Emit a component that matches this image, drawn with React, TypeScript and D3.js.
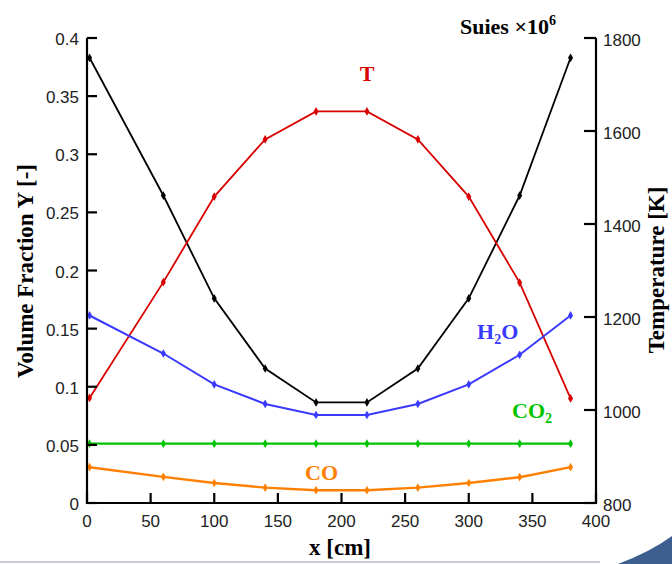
import React from "react";
import * as d3 from "d3";

const xPos = [2, 60, 100, 140, 180, 220, 260, 300, 340, 380];
const soot = [0.383, 0.2645, 0.176, 0.1157, 0.0865, 0.0865, 0.1157, 0.176, 0.2645, 0.383];
const temperature = [1026, 1275, 1459, 1582, 1642, 1642, 1582, 1459, 1274, 1025];
const h2o = [0.1613, 0.1286, 0.102, 0.0852, 0.0757, 0.0757, 0.0852, 0.102, 0.1275, 0.1613];
const co2 = [0.051, 0.051, 0.051, 0.051, 0.051, 0.051, 0.051, 0.051, 0.051, 0.051];
const co = [0.0308, 0.0225, 0.0172, 0.0132, 0.011, 0.011, 0.0132, 0.0172, 0.0222, 0.0308];

const xTicks = [0, 50, 100, 150, 200, 250, 300, 350, 400];
const yLeftTicks = [0, 0.05, 0.1, 0.15, 0.2, 0.25, 0.3, 0.35, 0.4];
const yRightTicks = [800, 1000, 1200, 1400, 1600, 1800];

const W = 672;
const H = 564;
const serif = "'Liberation Serif', 'Times New Roman', serif";
const sans = "'Liberation Sans', Arial, sans-serif";

export default function App() {
  const x = d3.scaleLinear().domain([0, 400]).range([87, 596]);
  const yL = d3.scaleLinear().domain([0, 0.4]).range([503, 38]);
  const yR = d3.scaleLinear().domain([800, 1800]).range([503, 38]);

  const lineL = (vals: number[]) =>
    d3.line<number>().x((_, i) => x(xPos[i])).y((v) => yL(v))(vals) || "";
  const lineR = (vals: number[]) =>
    d3.line<number>().x((_, i) => x(xPos[i])).y((v) => yR(v))(vals) || "";

  const diamond = d3.symbol().type(d3.symbolDiamond).size(22)() || "";

  const series = [
    { vals: soot, color: "#000000", scale: yL, path: lineL(soot), w: 1.8 },
    { vals: temperature, color: "#d80000", scale: yR, path: lineR(temperature), w: 1.8 },
    { vals: h2o, color: "#3a3aff", scale: yL, path: lineL(h2o), w: 2 },
    { vals: co2, color: "#00c400", scale: yL, path: lineL(co2), w: 2.2 },
    { vals: co, color: "#ff8000", scale: yL, path: lineL(co), w: 2.4 },
  ];

  return (
    <svg
      width={W}
      height={H}
      style={{ position: "absolute", left: 0, top: 0, background: "#fff" }}
    >
      <rect x={0} y={0} width={W} height={H} fill="#fff" />
      {/* decoration bottom */}
      <path d="M0,562 L600,562" stroke="#c8ccd6" strokeWidth={2} fill="none" />
      <path d="M618,564 Q650,552 672,536 L672,564 Z" fill="#3d5f8f" />

      {/* series */}
      {series.map((s, si) => (
        <g key={si}>
          <path d={s.path} fill="none" stroke={s.color} strokeWidth={s.w} />
          {s.vals.map((v, i) => (
            <path
              key={i}
              d={diamond}
              transform={`translate(${x(xPos[i])},${s.scale(v)})`}
              fill={s.color}
            />
          ))}
        </g>
      ))}

      {/* axes */}
      <g stroke="#000" strokeWidth={2.2} fill="none">
        <path d={`M${x(0)},${yL(0.4)} L${x(0)},${yL(0)} L${x(400)},${yL(0)} L${x(400)},${yR(1800)}`} />
        {yLeftTicks.map((t) => (
          <line key={"l" + t} x1={x(0)} x2={x(0) + 10} y1={yL(t)} y2={yL(t)} />
        ))}
        {xTicks.map((t) => (
          <line key={"b" + t} x1={x(t)} x2={x(t)} y1={yL(0)} y2={yL(0) - 10} />
        ))}
        {yRightTicks.map((t) => (
          <line key={"r" + t} x1={x(400)} x2={x(400) - 12} y1={yR(t)} y2={yR(t)} />
        ))}
      </g>

      {/* tick labels */}
      <g fontFamily={sans} fontSize={17} fill="#222">
        {yLeftTicks.map((t) => (
          <text key={"lt" + t} x={x(0) - 8} y={yL(t) + 7} textAnchor="end">
            {d3.format("~g")(t)}
          </text>
        ))}
        {xTicks.map((t) => (
          <text key={"bt" + t} x={x(t)} y={527} textAnchor="middle">
            {t}
          </text>
        ))}
        {yRightTicks.map((t) => (
          <text key={"rt" + t} x={x(400) + 7} y={yR(t) + 8} textAnchor="start">
            {t}
          </text>
        ))}
      </g>

      {/* axis titles */}
      <g fontFamily={serif} fontWeight="bold" fontSize={23} fill="#000">
        <text transform="translate(33,271) rotate(-90)" textAnchor="middle">
          Volume Fraction Y [-]
        </text>
        <text transform="translate(664,270) rotate(-90)" textAnchor="middle">
          Temperature [K]
        </text>
        <text x={340} y={555} textAnchor="middle">
          x [cm]
        </text>
      </g>

      {/* series labels */}
      <g fontFamily={serif} fontWeight="bold" fontSize={22}>
        <text x={367} y={81} textAnchor="middle" fill="#d80000">
          T
        </text>
        <text x={477} y={339} fill="#3a3aff">
          H<tspan fontSize={14} dy={5}>2</tspan>
          <tspan dy={-5}>O</tspan>
        </text>
        <text x={512} y={418} fill="#00c400">
          CO<tspan fontSize={14} dy={5}>2</tspan>
        </text>
        <text x={305} y={480} fill="#ff8000">
          CO
        </text>
        <text x={460} y={34} fill="#000">
          Suies ×10<tspan fontSize={14} dy={-9}>6</tspan>
        </text>
      </g>
    </svg>
  );
}
